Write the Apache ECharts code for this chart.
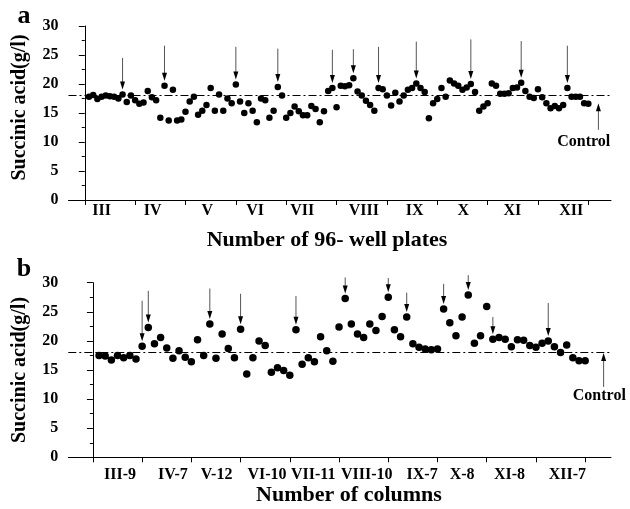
<!DOCTYPE html>
<html>
<head>
<meta charset="utf-8">
<script src="https://cdn.jsdelivr.net/npm/echarts@6/dist/echarts.min.js"></script>
<style>html,body{margin:0;padding:0;background:#fff}#main{width:630px;height:509px}</style>
</head>
<body>
<div id="main"></div>
<script>
// panel a: 10 plates x 12 columns
var plateLabels = ['III', 'IV', 'V', 'VI', 'VII', 'VIII', 'IX', 'X', 'XI', 'XII'];
var plateLabelPos = [4.0, 16.2, 29.2, 40.6, 51.8, 66.5, 78.6, 90.2, 101.9, 115.9];
var plateTicks = [0, 12, 24, 36, 48, 60, 72, 84, 96, 108, 120];
var plateValues = [
  17.8, 18.1, 17.4, 17.8, 18.0, 17.9, 17.8, 17.5, 18.2, 16.9, 18.0, 17.2,
  16.6, 16.8, 18.8, 17.7, 17.2, 14.2, 19.7, 13.7, 19.0, 13.7, 13.9, 15.2,
  17.0, 17.8, 14.7, 15.4, 16.4, 19.3, 15.4, 18.2, 15.4, 17.5, 16.7, 19.9,
  17.0, 15.0, 16.7, 15.4, 13.4, 17.5, 17.2, 14.2, 15.4, 19.5, 18.0, 14.2,
  15.0, 16.1, 15.3, 14.6, 14.6, 16.2, 15.7, 13.4, 15.3, 18.8, 19.3, 16.0,
  19.7, 19.6, 19.8, 21.0, 18.7, 18.0, 17.1, 16.4, 15.4, 19.3, 19.1, 18.0,
  16.3, 18.5, 17.0, 18.0, 19.0, 19.3, 20.1, 19.3, 18.6, 14.1, 16.7, 17.4,
  19.3, 17.8, 20.6, 20.1, 19.7, 19.0, 19.4, 20.0, 18.6, 15.4, 16.1, 16.7,
  20.1, 19.7, 18.3, 18.3, 18.4, 19.3, 19.4, 20.2, 18.8, 17.8, 17.6, 19.1,
  17.7, 16.7, 15.8, 16.2, 15.8, 16.4, 19.3, 17.8, 17.8, 17.8, 16.7, 16.6
];
var plateArrowIdx = [8, 18, 35, 45, 58, 63, 69, 78, 91, 103, 114];
var plateArrowTop = [24.5, 26.6, 26.4, 26.1, 25.9, 26.0, 26.4, 27.3, 27.7, 27.4, 26.6];

// panel b: selected columns
var columnLabels = ['III-9', 'IV-7', 'V-12', 'VI-10', 'VII-11', 'VIII-10', 'IX-7', 'X-8', 'XI-8', 'XII-7'];
var columnLabelPos = [4.4, 13.0, 20.1, 28.3, 35.8, 44.5, 53.5, 60.0, 67.7, 77.1];
var columnTicks = [0, 8, 16, 24, 32, 40, 48, 56, 64, 72, 80];
var columnValues = [
  17.5, 17.4, 16.7, 17.5, 17.1, 17.5, 16.9, 19.1, 22.3, 19.5,
  20.6, 18.8, 17.0, 18.3, 17.2, 16.4, 20.2, 17.5, 22.9, 17.0,
  21.2, 18.7, 17.1, 22.0, 14.3, 17.1, 20.0, 19.2, 14.6, 15.4,
  14.9, 14.1, 21.9, 16.0, 17.1, 16.4, 20.7, 18.3, 16.5, 22.4,
  27.3, 22.9, 21.2, 20.6, 22.9, 21.8, 24.2, 27.5, 21.9, 20.7,
  24.1, 19.5, 18.9, 18.6, 18.5, 18.6, 25.5, 23.1, 20.9, 24.1,
  27.9, 19.6, 20.9, 25.9, 20.3, 20.6, 20.3, 19.0, 20.2, 20.1,
  19.2, 18.9, 19.6, 20.0, 19.0, 18.0, 19.3, 17.1, 16.6, 16.6
];
var columnArrowIdx = [7, 8, 18, 23, 32, 40, 47, 50, 56, 60, 64, 73];
var columnArrowTop = [26.9, 28.6, 29.0, 28.1, 27.7, 30.9, 30.8, 28.3, 29.8, 31.3, 24.1, 26.5];

var controlLevel = 18;
// control arrow: [x, tip, base, labelX, labelY]
var controlA = [[122.4, 16.7, 12.1, 118.9, 10.05]];
var controlB = [[83.0, 17.9, 12.1, 82.3, 10.6]];

var FONT = '"Liberation Serif", "Times New Roman", serif';

var chart = echarts.init(document.getElementById('main'));

function pts(vals) {
  return vals.map(function (v, i) { return [i + 1, v]; });
}
function arrows(idx, tops, vals) {
  return idx.map(function (i, k) { return [i + 1, vals[i], tops[k]]; });
}
function nearestLabel(pos, labels) {
  return function (v) {
    var best = 0;
    for (var k = 1; k < pos.length; k++) {
      if (Math.abs(pos[k] - v) < Math.abs(pos[best] - v)) best = k;
    }
    return labels[best];
  };
}

function arrowDown(params, api) {
  var p = api.coord([api.value(0), api.value(1)]);
  var top = api.coord([api.value(0), api.value(2)]);
  var tipY = p[1] - 5;
  var hl = 8, hw = 2.5;
  return {
    type: 'group',
    children: [
      { type: 'line', shape: { x1: p[0], y1: top[1], x2: p[0], y2: tipY - hl + 1 },
        style: { stroke: '#555', lineWidth: 1 } },
      { type: 'polygon', shape: { points: [[p[0] - hw, tipY - hl], [p[0] + hw, tipY - hl], [p[0], tipY]] },
        style: { fill: '#000' } }
    ]
  };
}

function controlArrow(params, api) {
  var tip = api.coord([api.value(0), api.value(1)]);
  var base = api.coord([api.value(0), api.value(2)]);
  var lab = api.coord([api.value(3), api.value(4)]);
  var hl = 8, hw = 2.5;
  return {
    type: 'group',
    children: [
      { type: 'line', shape: { x1: tip[0], y1: base[1], x2: tip[0], y2: tip[1] + hl - 1 },
        style: { stroke: '#555', lineWidth: 1 } },
      { type: 'polygon', shape: { points: [[tip[0] - hw, tip[1] + hl], [tip[0] + hw, tip[1] + hl], [tip[0], tip[1]]] },
        style: { fill: '#000' } },
      { type: 'text', style: { x: lab[0], y: lab[1], text: 'Control', align: 'center', verticalAlign: 'middle',
        font: 'bold 16px ' + FONT, fill: '#000' } }
    ]
  };
}

function yAxis(gridIndex) {
  return {
    type: 'value', gridIndex: gridIndex, min: 0, max: 30, interval: 5,
    axisLine: { show: true, lineStyle: { color: '#000', width: 1 } },
    axisTick: { show: true, length: 6, lineStyle: { color: '#000' } },
    minorTick: { show: true, splitNumber: 2, length: 3, lineStyle: { color: '#000' } },
    splitLine: { show: false },
    axisLabel: { color: '#000', fontFamily: FONT, fontWeight: 'bold', fontSize: 16, margin: 10 }
  };
}

function xAxis(gridIndex, min, max, ticks, labelPos, labels, margin) {
  return {
    type: 'value', gridIndex: gridIndex, min: min, max: max,
    axisLine: { show: true, onZero: false, lineStyle: { color: '#000', width: 1 } },
    axisTick: { show: true, length: 5, customValues: ticks, lineStyle: { color: '#000' } },
    splitLine: { show: false },
    axisLabel: {
      color: '#000', fontFamily: FONT, fontWeight: 'bold', fontSize: 16, margin: margin,
      customValues: labelPos, formatter: nearestLabel(labelPos, labels)
    }
  };
}

var refLine = {
  silent: true, symbol: 'none', label: { show: false },
  lineStyle: { color: '#000', width: 1, type: [8, 3, 2, 3] },
  data: [{ yAxis: controlLevel }]
};

var option = {
  animation: false,
  backgroundColor: '#fff',
  grid: [
    { left: 68.5, right: 19, top: 26, bottom: 309 },
    { left: 68.3, right: 19, top: 282.7, bottom: 51.7 }
  ],
  xAxis: [
    xAxis(0, -3.88, 125.4, plateTicks, plateLabelPos, plateLabels, 3),
    xAxis(1, -4, 84.2, columnTicks, columnLabelPos, columnLabels, 10)
  ],
  yAxis: [yAxis(0), yAxis(1)],
  graphic: [
    { type: 'text', style: { x: 24, y: 16, text: 'a', align: 'center', verticalAlign: 'middle', font: 'bold 26px ' + FONT, fill: '#000' } },
    { type: 'text', style: { x: 24, y: 269, text: 'b', align: 'center', verticalAlign: 'middle', font: 'bold 26px ' + FONT, fill: '#000' } },
    { type: 'text', style: { x: 327, y: 240, text: 'Number of 96- well plates', align: 'center', verticalAlign: 'middle', font: 'bold 22px ' + FONT, fill: '#000' } },
    { type: 'text', style: { x: 349, y: 495, text: 'Number of columns', align: 'center', verticalAlign: 'middle', font: 'bold 22px ' + FONT, fill: '#000' } },
    { type: 'text', x: 20, y: 107.5, rotation: Math.PI / 2, style: { x: 0, y: 0, text: 'Succinic acid(g/l)', align: 'center', verticalAlign: 'middle', font: 'bold 20px ' + FONT, fill: '#000' } },
    { type: 'text', x: 20, y: 370, rotation: Math.PI / 2, style: { x: 0, y: 0, text: 'Succinic acid(g/l)', align: 'center', verticalAlign: 'middle', font: 'bold 20px ' + FONT, fill: '#000' } }
  ],
  series: [
    { type: 'scatter', xAxisIndex: 0, yAxisIndex: 0, symbolSize: 6.5, itemStyle: { color: '#000', opacity: 1 },
      data: pts(plateValues), markLine: refLine },
    { type: 'scatter', xAxisIndex: 1, yAxisIndex: 1, symbolSize: 7.5, itemStyle: { color: '#000', opacity: 1 },
      data: pts(columnValues), markLine: refLine },
    { type: 'custom', xAxisIndex: 0, yAxisIndex: 0, renderItem: arrowDown, clip: false,
      data: arrows(plateArrowIdx, plateArrowTop, plateValues) },
    { type: 'custom', xAxisIndex: 1, yAxisIndex: 1, renderItem: arrowDown, clip: false,
      data: arrows(columnArrowIdx, columnArrowTop, columnValues) },
    { type: 'custom', xAxisIndex: 0, yAxisIndex: 0, renderItem: controlArrow, clip: false, data: controlA },
    { type: 'custom', xAxisIndex: 1, yAxisIndex: 1, renderItem: controlArrow, clip: false, data: controlB }
  ]
};

chart.setOption(option);
</script>
</body>
</html>
